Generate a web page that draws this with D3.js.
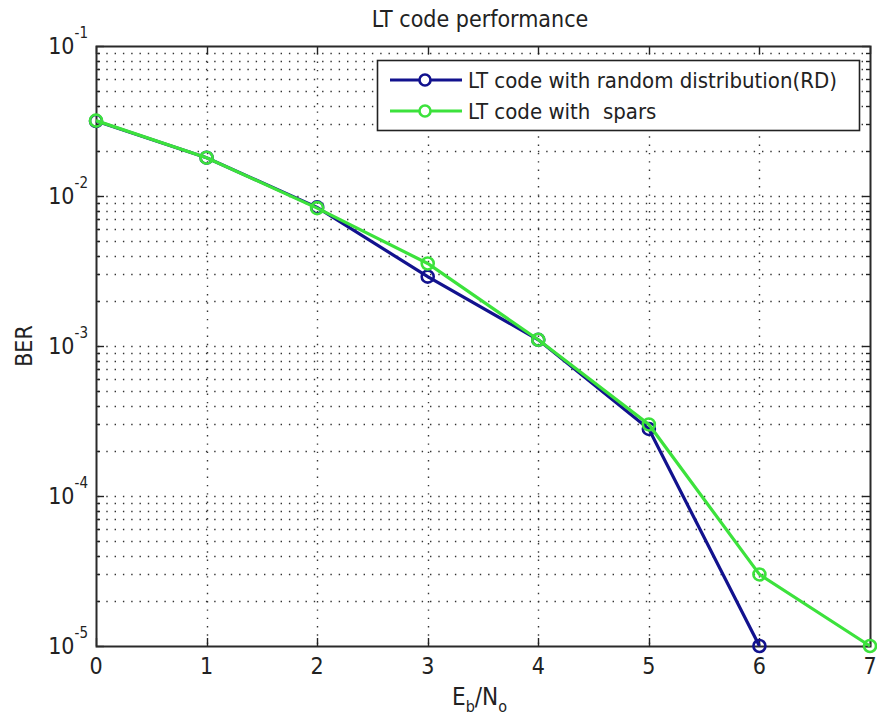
<!DOCTYPE html>
<html>
<head>
<meta charset="utf-8">
<script src="https://cdn.jsdelivr.net/npm/d3@7"></script>
<style>
body { margin: 0; background: #fff; }
text { font-family: "DejaVu Sans Condensed", "Liberation Sans", Arial, sans-serif; fill: #222; }
</style>
</head>
<body>
<script>
let w = 877
let h = 720
let margin = {left: 96, right: 7, top: 46, bottom: 74}

let ebno = [0, 1, 2, 3, 4, 5, 6, 7]
let berRD = [0.0316, 0.0180, 0.0084, 0.00290, 0.00110, 0.000280, 0.00001]
let berSpars = [0.0318, 0.0180, 0.0083, 0.00355, 0.00110, 0.000300, 0.000030, 0.00001]
let seriesNames = ["LT code with random distribution(RD)", "LT code with  spars"]
let seriesColors = ["#12128e", "#3ce23c"]
let yDecades = [-5, -4, -3, -2, -1]

let svg = d3.select("body").append("svg")
  .attr("width", w)
  .attr("height", h)

let x = d3.scaleLinear().domain([0, 7]).range([margin.left, w - margin.right])
let y = d3.scaleLog().domain([1e-5, 1e-1]).range([h - margin.bottom, margin.top])

let x0 = x.range()[0], x1 = x.range()[1]
let y0 = y.range()[0], y1 = y.range()[1]

// minor values for the log grid
let minorVals = []
yDecades.slice(0, -1).forEach((d)=>{
  for (let m = 2; m <= 9; m++) minorVals.push(m * Math.pow(10, d))
})
let majorVals = yDecades.map((d)=> Math.pow(10, d))

let grid = svg.append("g")
  .attr("stroke", "#333")
  .attr("stroke-width", 1.4)
  .attr("stroke-dasharray", "1.4,6.9")

grid.selectAll(".gy")
  .data(minorVals.concat(majorVals.slice(1, -1)))
  .enter().append("line")
  .attr("x1", x0 + 2).attr("x2", x1)
  .attr("y1", (d)=> Math.round(y(d)) + 0.5)
  .attr("y2", (d)=> Math.round(y(d)) + 0.5)

grid.selectAll(".gx")
  .data(ebno.slice(1, -1))
  .enter().append("line")
  .attr("y1", y0 - 2).attr("y2", y1)
  .attr("x1", (d)=> Math.round(x(d)) + 0.5)
  .attr("x2", (d)=> Math.round(x(d)) + 0.5)

// ticks inside, on all four sides
let ticks = svg.append("g").attr("stroke", "#222").attr("stroke-width", 1.4)
ebno.forEach((d)=>{
  let px = Math.round(x(d)) + 0.5
  ticks.append("line").attr("x1", px).attr("x2", px).attr("y1", y0).attr("y2", y0 - 8)
  ticks.append("line").attr("x1", px).attr("x2", px).attr("y1", y1).attr("y2", y1 + 8)
})
majorVals.forEach((d)=>{
  let py = Math.round(y(d)) + 0.5
  ticks.append("line").attr("x1", x0).attr("x2", x0 + 8).attr("y1", py).attr("y2", py)
  ticks.append("line").attr("x1", x1).attr("x2", x1 - 8).attr("y1", py).attr("y2", py)
})
minorVals.forEach((d)=>{
  let py = Math.round(y(d)) + 0.5
  ticks.append("line").attr("x1", x0).attr("x2", x0 + 4).attr("y1", py).attr("y2", py)
  ticks.append("line").attr("x1", x1).attr("x2", x1 - 4).attr("y1", py).attr("y2", py)
})

// frame
svg.append("rect")
  .attr("x", x0 + 0.5).attr("y", y1 + 0.5)
  .attr("width", x1 - x0).attr("height", y0 - y1)
  .attr("fill", "none").attr("stroke", "#2a2a2a").attr("stroke-width", 2)

// tick labels
svg.selectAll(".xl")
  .data(ebno)
  .enter().append("text")
  .attr("x", (d)=> x(d))
  .attr("y", y0 + 28)
  .attr("text-anchor", "middle")
  .attr("font-size", 23)
  .text((d)=> d)

let yl = svg.selectAll(".yl")
  .data(yDecades)
  .enter().append("text")
  .attr("x", x0 - 8)
  .attr("y", (d)=> y(Math.pow(10, d)) + 8)
  .attr("text-anchor", "end")
  .attr("font-size", 23)
yl.append("tspan").text("10")
yl.append("tspan").attr("dy", -16).attr("font-size", 15).text((d)=> d)

// titles
svg.append("text")
  .attr("x", 480)
  .attr("y", 27)
  .attr("text-anchor", "middle")
  .attr("font-size", 23)
  .text("LT code performance")

svg.append("text")
  .attr("transform", "translate(32," + ((y0 + y1) / 2) + ") rotate(-90)")
  .attr("text-anchor", "middle")
  .attr("font-size", 23)
  .text("BER")

let xt = svg.append("text")
  .attr("x", 452)
  .attr("y", 705)
  .attr("font-size", 24)
xt.append("tspan").text("E")
xt.append("tspan").attr("dy", 7).attr("font-size", 16).text("b")
xt.append("tspan").attr("dy", -7).text("/N")
xt.append("tspan").attr("dy", 7).attr("font-size", 16).text("o")

// series
let line = d3.line().x((d)=> x(d[0])).y((d)=> y(d[1]))
let allSeries = [
  d3.zip(ebno.slice(0, berRD.length), berRD),
  d3.zip(ebno, berSpars)
]

allSeries.forEach((pts, i)=>{
  let g = svg.append("g")
  g.append("path")
    .attr("d", line(pts))
    .attr("fill", "none")
    .attr("stroke", seriesColors[i])
    .attr("stroke-width", 3.2)
  g.selectAll("circle")
    .data(pts)
    .enter().append("circle")
    .attr("cx", (d)=> x(d[0]))
    .attr("cy", (d)=> y(d[1]))
    .attr("r", 6)
    .attr("fill", "none")
    .attr("stroke", seriesColors[i])
    .attr("stroke-width", 2.6)
})

// legend
let legend = svg.append("g")
legend.append("rect")
  .attr("x", 377.5).attr("y", 60.5)
  .attr("width", 482).attr("height", 70)
  .attr("fill", "#fff").attr("stroke", "#222").attr("stroke-width", 1.6)

seriesNames.forEach((name, i)=>{
  let ly = 80 + i * 31
  legend.append("line")
    .attr("x1", 390).attr("x2", 462)
    .attr("y1", ly).attr("y2", ly)
    .attr("stroke", seriesColors[i]).attr("stroke-width", 3.2)
  legend.append("circle")
    .attr("cx", 425).attr("cy", ly).attr("r", 5.5)
    .attr("fill", "#fff")
    .attr("stroke", seriesColors[i]).attr("stroke-width", 2.6)
  legend.append("text")
    .attr("x", 468).attr("y", ly + 8)
    .attr("font-size", 22)
    .attr("xml:space", "preserve")
    .style("white-space", "pre")
    .text(name)
})
</script>
</body>
</html>
